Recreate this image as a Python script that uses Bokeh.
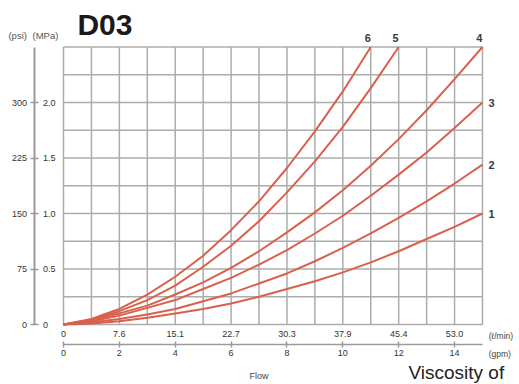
from bokeh.plotting import figure
from bokeh.models import LinearAxis, Range1d, FixedTicker, Label, LabelSet, ColumnDataSource
from bokeh.core.properties import value
from bokeh.embed import file_html
from bokeh.resources import INLINE

# ---- data ----
flow_gpm_1_4 = [0, 1, 2, 3, 4, 5, 6, 7, 8, 9, 10, 11, 12, 13, 14, 15]
curve1 = [0, 0.01, 0.03, 0.06, 0.10, 0.14, 0.19, 0.25, 0.32, 0.39, 0.47, 0.56, 0.66, 0.77, 0.88, 1.00]
curve2 = [0, 0.02, 0.05, 0.09, 0.14, 0.21, 0.28, 0.37, 0.46, 0.57, 0.69, 0.82, 0.96, 1.11, 1.27, 1.44]
curve3 = [0, 0.03, 0.08, 0.15, 0.22, 0.32, 0.42, 0.54, 0.67, 0.82, 0.98, 1.16, 1.35, 1.55, 1.77, 2.00]
curve4 = [0, 0.04, 0.10, 0.17, 0.27, 0.38, 0.51, 0.66, 0.83, 1.01, 1.21, 1.43, 1.67, 1.93, 2.21, 2.50]
flow_gpm_5 = [0, 1, 2, 3, 4, 5, 6, 7, 8, 9, 10, 11, 12]
curve5 = [0, 0.04, 0.12, 0.22, 0.35, 0.52, 0.71, 0.93, 1.19, 1.47, 1.78, 2.13, 2.50]
flow_gpm_6 = [0, 1, 2, 3, 4, 5, 6, 7, 8, 9, 10, 11]
curve6 = [0, 0.05, 0.14, 0.27, 0.43, 0.62, 0.85, 1.11, 1.41, 1.74, 2.10, 2.50]
curve_names = ["1", "2", "3", "4", "5", "6"]

x_max = 15        # gpm
y_max = 2.5       # MPa
psi_per_mpa = 150
mpa_ticks = [0, 0.5, 1.0, 1.5, 2.0]
mpa_labels = ["0", "0.5", "1.0", "1.5", "2.0"]
psi_ticks = [0, 75, 150, 225, 300]
gpm_ticks = [0, 2, 4, 6, 8, 10, 12, 14]
lpm_labels = ["0", "7.6", "15.1", "22.7", "30.3", "37.9", "45.4", "53.0"]
grid_x = list(range(16))
grid_y = [0, 0.25, 0.5, 0.75, 1.0, 1.25, 1.5, 1.75, 2.0, 2.25, 2.5]

RED = "#d9604c"
GRID = "#acacac"
AXC = "#9a9a9a"
TXT = "#333333"
FONT = "Liberation Sans"
NB = "\u00a0"

# the frame covers the whole canvas; the chart area is 0..15 gpm x 0..2.5 MPa inside it
XR = (-2.255, 16.325)
YR = (-0.5405, 2.919)
p = figure(width=519, height=384, x_range=Range1d(*XR), y_range=Range1d(*YR),
           output_backend="svg", toolbar_location=None,
           min_border_left=0, min_border_right=0, min_border_top=0, min_border_bottom=0)
p.extra_y_ranges = {"psi": Range1d(YR[0] * psi_per_mpa, YR[1] * psi_per_mpa)}
p.outline_line_color = None
p.background_fill_color = "white"
p.border_fill_color = "white"
p.xgrid.visible = False
p.ygrid.visible = False

# chart grid (also forms the chart border)
p.segment(x0=grid_x, y0=[0] * len(grid_x), x1=grid_x, y1=[y_max] * len(grid_x),
          line_color=GRID, line_width=1.5)
p.segment(x0=[0] * len(grid_y), y0=grid_y, x1=[x_max] * len(grid_y), y1=grid_y,
          line_color=GRID, line_width=1.5)

# curves
series = [(flow_gpm_1_4, curve1), (flow_gpm_1_4, curve2), (flow_gpm_1_4, curve3),
          (flow_gpm_1_4, curve4), (flow_gpm_5, curve5), (flow_gpm_6, curve6)]
for xs, ys in series:
    p.line(xs, ys, line_color=RED, line_width=2)

def style_labels(ax):
    ax.major_label_text_font_size = "9px"
    ax.major_label_text_color = TXT
    ax.major_label_text_font = FONT
    ax.minor_tick_line_color = None

# MPa axis (default left axis), drawn at x = 0; labels look left-aligned in the reference
ya = p.yaxis[0]
ya.fixed_location = 0
ya.bounds = (0, y_max)
ya.ticker = FixedTicker(ticks=mpa_ticks)
ya.major_label_overrides = {t: (l + NB * 3 if len(l) == 1 else l)
                            for t, l in zip(mpa_ticks, mpa_labels)}
ya.axis_line_color = None
ya.major_tick_line_color = None
ya.major_tick_in = 0
ya.major_tick_out = 0
ya.major_label_standoff = 8
style_labels(ya)

# psi axis with its own line
psi = LinearAxis(y_range_name="psi", ticker=FixedTicker(ticks=psi_ticks))
psi.fixed_location = -1.02
psi.bounds = (0, y_max * psi_per_mpa)
psi.axis_line_color = AXC
psi.axis_line_width = 2
psi.major_tick_line_color = AXC
psi.major_tick_line_width = 1.5
psi.major_tick_in = 4
psi.major_tick_out = 4
psi.major_label_standoff = 4
style_labels(psi)
p.add_layout(psi, "left")

# l/min labels (default bottom axis) at y = 0
xa = p.xaxis[0]
xa.fixed_location = 0
xa.bounds = (0, x_max)
xa.ticker = FixedTicker(ticks=gpm_ticks)
xa.major_label_overrides = {t: l for t, l in zip(gpm_ticks, lpm_labels)}
xa.axis_line_color = None
xa.major_tick_line_color = None
xa.major_tick_in = 0
xa.major_tick_out = 0
xa.major_label_standoff = 6
style_labels(xa)

# gpm axis with its own line
gpm = LinearAxis(ticker=FixedTicker(ticks=gpm_ticks))
gpm.fixed_location = -0.18
gpm.bounds = (0, x_max)
gpm.axis_line_color = AXC
gpm.axis_line_width = 1.5
gpm.major_tick_line_color = AXC
gpm.major_tick_line_width = 1.5
gpm.major_tick_in = 3
gpm.major_tick_out = 3
gpm.major_label_standoff = 3
style_labels(gpm)
p.add_layout(gpm, "below")

# texts
def lab(x, y, t, size, color=TXT, bold=False, align="left", base="middle"):
    p.add_layout(Label(x=x, y=y, text=t, text_font=FONT, text_font_size=size,
                       text_color=color, text_font_style="bold" if bold else "normal",
                       text_align=align, text_baseline=base))

lab(0.5, 2.703, "D03", "30px", color="#1a1a1a", bold=True)
lab(-1.97, 2.60, "(psi)", "9.5px", color="#555555")
lab(-1.11, 2.60, "(MPa)", "9.5px", color="#555555")
lab(15.22, -0.104, "(\u2113/min)", "8.5px", color="#444444")
lab(15.22, -0.27, "(gpm)", "8.5px", color="#444444")
lab(7.0, -0.468, "Flow", "9px", color="#444444", align="center")
lab(12.35, -0.432, "Viscosity of", "19px", color="#222222")

# curve end labels
top_src = ColumnDataSource(dict(x=[flow_gpm_6[-1], flow_gpm_5[-1], flow_gpm_1_4[-1]],
                                y=[curve6[-1], curve5[-1], curve4[-1]],
                                t=[curve_names[5], curve_names[4], curve_names[3]]))
right_src = ColumnDataSource(dict(x=[flow_gpm_1_4[-1]] * 3,
                                  y=[curve3[-1], curve2[-1], curve1[-1]],
                                  t=[curve_names[2], curve_names[1], curve_names[0]]))
p.add_layout(LabelSet(x="x", y="y", text="t", source=top_src, text_align="right",
                      text_baseline="bottom", y_offset=5, text_font=value(FONT),
                      text_font_size="11px", text_font_style="bold", text_color="#3a3a3a"))
p.add_layout(LabelSet(x="x", y="y", text="t", source=right_src, text_align="left",
                      text_baseline="middle", x_offset=6, text_font=value(FONT),
                      text_font_size="11px", text_font_style="bold", text_color="#3a3a3a"))

open("out.html", "w").write(file_html(p, INLINE))
